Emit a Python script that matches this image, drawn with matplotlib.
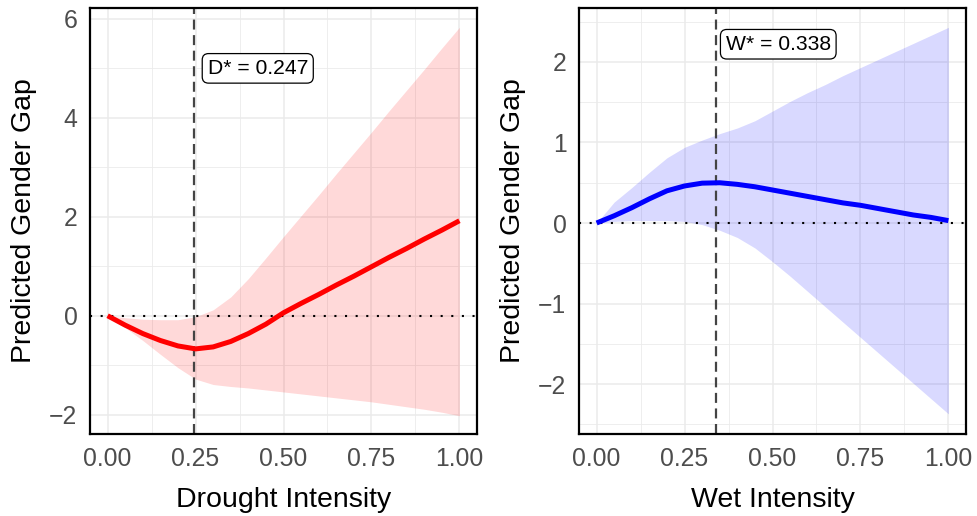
import matplotlib
matplotlib.use("Agg")
import matplotlib.pyplot as plt
from matplotlib.ticker import MultipleLocator

plt.rcParams['font.family'] = ['Liberation Sans', 'DejaVu Sans']

# Data
x = [0.00, 0.05, 0.10, 0.15, 0.20, 0.25, 0.30, 0.35, 0.40, 0.45, 0.50,
     0.55, 0.60, 0.65, 0.70, 0.75, 0.80, 0.85, 0.90, 0.95, 1.00]

drought_fit = [0.00, -0.19, -0.36, -0.50, -0.61, -0.67, -0.63, -0.52, -0.36, -0.17, 0.06,
               0.25, 0.43, 0.62, 0.80, 0.99, 1.18, 1.36, 1.55, 1.73, 1.92]
drought_hi = [0.00, -0.04, -0.07, -0.08, -0.08, -0.02, 0.12, 0.38, 0.75, 1.17, 1.60,
              2.02, 2.44, 2.87, 3.29, 3.71, 4.14, 4.56, 4.98, 5.41, 5.83]
drought_lo = [0.00, -0.24, -0.50, -0.78, -1.05, -1.28, -1.39, -1.43, -1.46, -1.50, -1.54,
              -1.58, -1.62, -1.66, -1.70, -1.74, -1.79, -1.84, -1.89, -1.95, -2.02]

wet_fit = [0.00, 0.09, 0.19, 0.30, 0.40, 0.46, 0.495, 0.50, 0.48, 0.45, 0.41,
           0.37, 0.33, 0.29, 0.25, 0.22, 0.18, 0.14, 0.10, 0.07, 0.03]
wet_hi = [0.00, 0.26, 0.44, 0.63, 0.81, 0.94, 1.03, 1.11, 1.18, 1.27, 1.39,
          1.51, 1.62, 1.72, 1.83, 1.93, 2.03, 2.13, 2.23, 2.33, 2.43]
wet_lo = [0.00, 0.02, 0.03, 0.03, 0.03, 0.02, -0.02, -0.09, -0.18, -0.31, -0.48,
          -0.66, -0.85, -1.04, -1.23, -1.42, -1.61, -1.80, -1.99, -2.18, -2.37]

d_star = 0.247
w_star = 0.338
x_ticks = [0.00, 0.25, 0.50, 0.75, 1.00]
x_tick_labels = ["0.00", "0.25", "0.50", "0.75", "1.00"]

fig = plt.figure(figsize=(9.77, 5.16), dpi=100)
ax1 = fig.add_axes([90 / 977, 1 - 434 / 516, 387 / 977, 426 / 516])
ax2 = fig.add_axes([579 / 977, 1 - 434 / 516, 387 / 977, 426 / 516])


def draw_panel(ax, fit, lo, hi, color, star, label, xlabel, ylim, ymajor, label_xy):
    ax.set_axisbelow(True)
    ax.grid(which='major', color='#EBEBEB', lw=1.1)
    ax.grid(which='minor', color='#EBEBEB', lw=0.6)
    ax.fill_between(x, lo, hi, color=color, alpha=0.15, lw=0)
    ax.axhline(0, color='black', lw=1.5, ls=(0, (1, 4.1)))
    ax.axvline(star, color='#444444', lw=1.6, ls=(0, (4.5, 2.5)))
    ax.plot(x, fit, color=color, lw=3.6, solid_capstyle='butt', solid_joinstyle='round')
    ax.text(label_xy[0], label_xy[1], label, ha='left', va='center', fontsize=15.2,
            bbox=dict(boxstyle='round,pad=0.25,rounding_size=0.3', fc='white', ec='black', lw=0.9))
    ax.set_xlim(-0.05, 1.05)
    ax.set_ylim(*ylim)
    ax.set_xticks(x_ticks)
    ax.set_xticklabels(x_tick_labels)
    ax.xaxis.set_minor_locator(MultipleLocator(0.125))
    ax.yaxis.set_major_locator(MultipleLocator(ymajor))
    ax.yaxis.set_minor_locator(MultipleLocator(ymajor / 2))
    ax.tick_params(which='both', length=0, labelsize=17.8, labelcolor='#4D4D4D', pad=9)
    for s in ax.spines.values():
        s.set_linewidth(1.6)
        s.set_color('black')
    ax.set_xlabel(xlabel, fontsize=20.5, labelpad=12)
    ax.set_ylabel('Predicted Gender Gap', fontsize=20.5, labelpad=9)
    ax.set_yticklabels([t.get_text().replace('-', '\u2212') for t in ax.get_yticklabels()])


draw_panel(ax1, drought_fit, drought_lo, drought_hi, 'red', d_star,
           'D* = 0.247', 'Drought Intensity', (-2.39, 6.22), 2, (0.284, 5.0))
draw_panel(ax2, wet_fit, wet_lo, wet_hi, 'blue', w_star,
           'W* = 0.338', 'Wet Intensity', (-2.62, 2.67), 1, (0.367, 2.22))

fig.savefig("out.png", dpi=100)
